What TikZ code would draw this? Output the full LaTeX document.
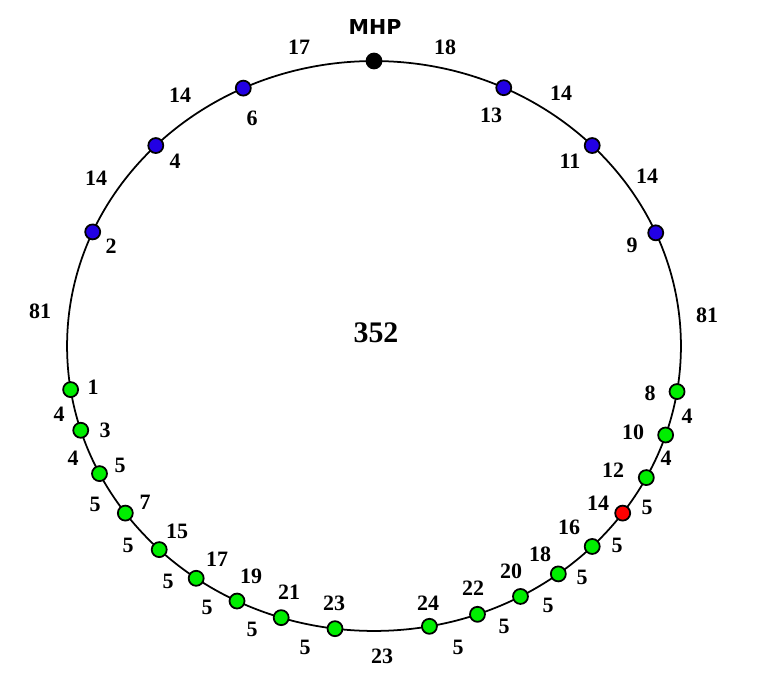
\documentclass[tikz,border=0pt]{standalone}
\usepackage{fontspec}
\setmainfont{Liberation Serif}
\newfontfamily\mhpfont{DejaVu Sans}
\definecolor{ringblue}{RGB}{34,0,228}
\definecolor{ringgreen}{RGB}{0,238,0}
\definecolor{ringred}{RGB}{255,0,0}

\begin{document}
\begin{tikzpicture}[
    x=0.02cm, y=-0.02cm,
    stop/.style={circle,draw,line width=1pt,minimum size=0.3cm,inner sep=0pt},
    num/.style={inner sep=0pt,font=\fontsize{12.5}{15}\selectfont\bfseries}
]
\useasboundingbox (0,0) rectangle (763,675);
% the ring
\draw[line width=1pt] (374,346) ellipse [x radius=6.14cm, y radius=5.70cm];

% stops on the ring
\node[stop,fill=black] (mhp) at ({374+307*cos(90)},{346-285*sin(90)}) {};
\foreach \t/\n in {115.2/6,135.3/4,156.4/2,65.0/13,44.7/11,23.4/9}
    \node[stop,fill=ringblue] (b\n) at ({374+307*cos(\t)},{346-285*sin(\t)}) {};
\foreach \t/\n in {188.8/1,197.2/3,206.6/5,215.9/7,225.6/15,234.6/17,243.5/19,252.4/21,262.7/23,
                   -9.2/8,-18.2/10,-27.5/12,-44.7/16,-53.1/18,-61.5/20,-70.3/22,-79.6/24}
    \node[stop,fill=ringgreen] (g\n) at ({374+307*cos(\t)},{346-285*sin(\t)}) {};
\node[stop,fill=ringred] (g14) at ({374+307*cos(-35.9)},{346-285*sin(-35.9)}) {};

% stop numbers
\foreach \n/\x/\y in {6/252/118,4/175/161,2/111/246,13/491/115,11/570/161,9/632/245,
                      1/93/387,3/105/430,5/120/465,7/145/502,15/177/531,17/217/559,19/251/576,21/289/592,23/334/603,
                      8/650/393,10/633/432,12/613/470,14/598/503,16/569/527,18/540/554,20/511/571,22/473/588,24/428/603}
    \node[num] (n\n) at (\x,\y) {\n};

% distances between stops
\foreach \d/\x/\y [count=\i] in {17/299/47,18/445/47,14/180/95,14/561/93,14/96/178,14/647/176,81/40/311,81/707/315,
                                 4/59/414,4/73/458,5/95/504,5/128/545,5/168/581,5/207/607,5/252/629,5/305/647,
                                 4/687/416,4/666/458,5/647/507,5/617/545,5/582/577,5/548/605,5/504/626,5/458/647,
                                 23/382/656}
    \node[num] (d\i) at (\x,\y) {\d};

\node[inner sep=0pt,font=\mhpfont\fontsize{11.7}{14}\selectfont\bfseries] (mhplabel) at (375,27.5) {MHP};
\node[inner sep=0pt,font=\fontsize{17}{20}\selectfont\bfseries] (total) at (376,333) {352};
\end{tikzpicture}
\end{document}
